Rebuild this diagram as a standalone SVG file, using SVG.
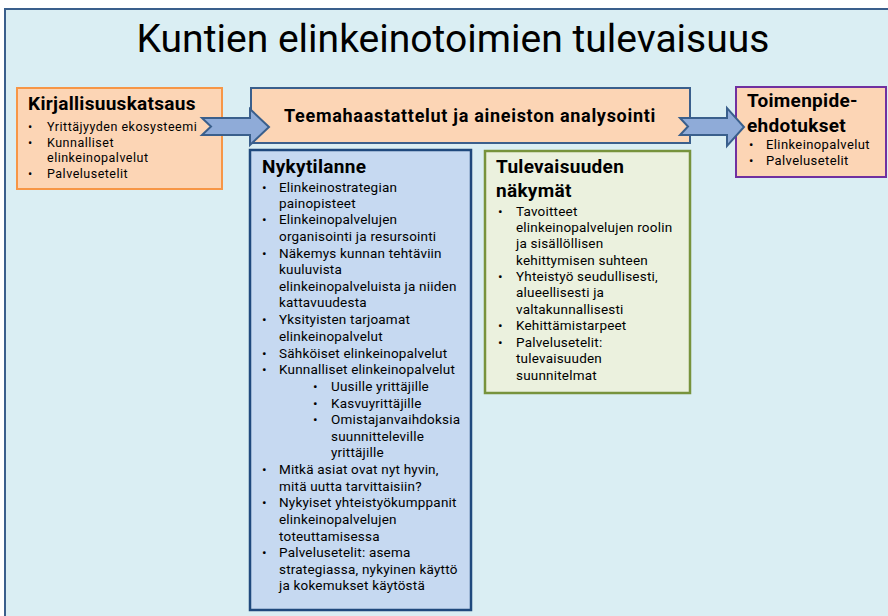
<svg xmlns="http://www.w3.org/2000/svg" width="888" height="616" viewBox="0 0 888 616">
<style>
.t{font-family:Roboto,"Liberation Sans",sans-serif;fill:#000}
.b{font-size:13.5px;letter-spacing:0.2px}
.s{font-size:12.5px;letter-spacing:0.5px}
.r{font-size:13px;letter-spacing:0.4px}
.h{font-size:19px;font-weight:bold;letter-spacing:0.3px}
.arrow{fill:#8fabd8;stroke:#3a5f8c;stroke-width:2;stroke-linejoin:miter}
</style>
<rect width="888" height="616" fill="#ffffff"/>
<g id="frame">
<rect x="5" y="9" width="890" height="620" fill="#daeef3" stroke="#3a5f8c" stroke-width="2"/>
<text class="t" x="453" y="52" font-size="38" text-anchor="middle" textLength="633" lengthAdjust="spacingAndGlyphs">Kuntien elinkeinotoimien tulevaisuus</text>
</g>
<g id="kirjallisuus">
<rect x="17" y="88" width="205" height="101" fill="#fcd5b5" stroke="#f79646" stroke-width="2"/>
<text class="t h" x="28" y="110">Kirjallisuuskatsaus</text>
<g class="t s">
<text x="28" y="131">•</text><text x="47" y="131">Yrittäjyyden ekosysteemi</text>
<text x="28" y="147">•</text><text x="47" y="147">Kunnalliset</text>
<text x="47" y="162">elinkeinopalvelut</text>
<text x="28" y="178">•</text><text x="47" y="178">Palvelusetelit</text>
</g>
</g>
<g id="teema">
<rect x="251" y="88" width="439" height="55" fill="#fcd5b5" stroke="#3a5f8c" stroke-width="2"/>
<text class="t" x="470" y="122" font-size="18" font-weight="bold" letter-spacing="0.7" text-anchor="middle">Teemahaastattelut ja aineiston analysointi</text>
</g>
<g id="toimenpide">
<rect x="736" y="87" width="150" height="90" fill="#fcd5b5" stroke="#7030a0" stroke-width="2"/>
<text class="t h" x="747" y="107">Toimenpide-</text>
<text class="t h" x="747" y="132">ehdotukset</text>
<g class="t r">
<text x="749" y="149">•</text><text x="766" y="149">Elinkeinopalvelut</text>
<text x="749" y="165">•</text><text x="766" y="165">Palvelusetelit</text>
</g>
</g>
<g id="nykytilanne">
<rect x="250" y="150" width="221" height="460" fill="#c6d9f1" stroke="#1f497d" stroke-width="2.5"/>
<text class="t h" x="262" y="173">Nykytilanne</text>
<g class="t b">
<text x="262" y="192">•</text><text x="279" y="192">Elinkeinostrategian</text>
<text x="279" y="208">painopisteet</text>
<text x="262" y="224">•</text><text x="279" y="224">Elinkeinopalvelujen</text>
<text x="279" y="241">organisointi ja resursointi</text>
<text x="262" y="258">•</text><text x="279" y="258">Näkemys kunnan tehtäviin</text>
<text x="279" y="274">kuuluvista</text>
<text x="279" y="291">elinkeinopalveluista ja niiden</text>
<text x="279" y="307">kattavuudesta</text>
<text x="262" y="324">•</text><text x="279" y="324">Yksityisten tarjoamat</text>
<text x="279" y="341">elinkeinopalvelut</text>
<text x="262" y="358">•</text><text x="279" y="358">Sähköiset elinkeinopalvelut</text>
<text x="262" y="374">•</text><text x="279" y="374">Kunnalliset elinkeinopalvelut</text>
<text x="313" y="391">•</text><text x="331" y="391">Uusille yrittäjille</text>
<text x="313" y="408">•</text><text x="331" y="408">Kasvuyrittäjille</text>
<text x="313" y="424">•</text><text x="331" y="424">Omistajanvaihdoksia</text>
<text x="331" y="441">suunnitteleville</text>
<text x="331" y="457">yrittäjille</text>
<text x="262" y="474">•</text><text x="279" y="474">Mitkä asiat ovat nyt hyvin,</text>
<text x="279" y="491">mitä uutta tarvittaisiin?</text>
<text x="262" y="507">•</text><text x="279" y="507">Nykyiset yhteistyökumppanit</text>
<text x="279" y="524">elinkeinopalvelujen</text>
<text x="279" y="541">toteuttamisessa</text>
<text x="262" y="557">•</text><text x="279" y="557">Palvelusetelit: asema</text>
<text x="279" y="574">strategiassa, nykyinen käyttö</text>
<text x="279" y="590">ja kokemukset käytöstä</text>
</g>
</g>
<g id="tulevaisuus">
<rect x="485" y="151" width="205" height="242" fill="#ebf1de" stroke="#77933c" stroke-width="2.5"/>
<text class="t h" x="496" y="173">Tulevaisuuden</text>
<text class="t h" x="496" y="197">näkymät</text>
<g class="t b">
<text x="498" y="216">•</text><text x="516" y="216">Tavoitteet</text>
<text x="516" y="232">elinkeinopalvelujen roolin</text>
<text x="516" y="248">ja sisällöllisen</text>
<text x="516" y="265">kehittymisen suhteen</text>
<text x="498" y="281">•</text><text x="516" y="281">Yhteistyö seudullisesti,</text>
<text x="516" y="297">alueellisesti ja</text>
<text x="516" y="314">valtakunnallisesti</text>
<text x="498" y="330">•</text><text x="516" y="330">Kehittämistarpeet</text>
<text x="498" y="347">•</text><text x="516" y="347">Palvelusetelit:</text>
<text x="516" y="363">tulevaisuuden</text>
<text x="516" y="380">suunnitelmat</text>
</g>
</g>
<g id="connectors">
<path class="arrow" d="M202 118 L250 118 L250 109 L269 127 L250 145 L250 135 L202 135 L211 126.5 Z"/>
<path class="arrow" d="M680 118 L727 118 L727 108 L744 127 L727 146 L727 135 L680 135 L688 126.5 Z"/>
</g>
</svg>
